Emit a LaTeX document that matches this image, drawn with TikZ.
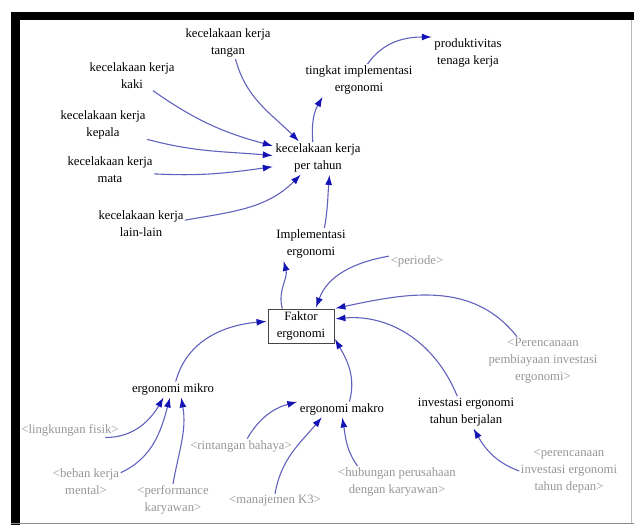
\documentclass[tikz,border=0pt]{standalone}
\usepackage{fontspec}
\setmainfont{Liberation Serif}
\usetikzlibrary{arrows.meta}
\definecolor{linkblue}{RGB}{98,98,190}
\definecolor{headblue}{RGB}{20,20,180}
\definecolor{shadowgray}{RGB}{150,150,150}
\definecolor{boxgray}{RGB}{70,70,70}
\definecolor{edgegray}{RGB}{140,140,140}

\begin{document}
\begin{tikzpicture}[x=1bp,y=1bp,
  var/.style={align=center, inner sep=1.5bp, font=\fontsize{12.7bp}{17bp}\selectfont, text=black},
  shadowvar/.style={var, text=shadowgray},
  level/.style={var, draw=boxgray, line width=0.9bp, minimum width=66bp, minimum height=34bp},
  link/.style={draw=linkblue, line width=1.1bp, -{Latex[length=10bp,width=7bp,color=headblue]}, shorten >=1bp}
]
\useasboundingbox (0,0) rectangle (634,-525);

% frame
\fill[black] (11,-12) rectangle (634,-20);
\fill[black] (11,-12) rectangle (20,-525);
\draw[edgegray, line width=0.8bp] (11,-523) -- (634,-523);
\draw[edgegray!60, line width=0.8bp] (631,-20) -- (631,-523);

% accident variables
\node[var] (tangan) at (228,-43) {kecelakaan kerja\\tangan};
\node[var] (kaki) at (132,-76) {kecelakaan kerja\\kaki};
\node[var] (kepala) at (103,-125) {kecelakaan kerja\\kepala};
\node[var] (mata) at (110,-170) {kecelakaan kerja\\mata};
\node[var] (lain) at (141,-224) {kecelakaan kerja\\lain-lain};
\node[var] (pertahun) at (318,-158) {kecelakaan kerja\\per tahun};
\node[var] (tingkat) at (359,-80) {tingkat implementasi\\ergonomi};
\node[var] (produktif) at (468,-53) {produktivitas\\tenaga kerja};
\node[var] (impl) at (311,-244) {Implementasi\\ergonomi};
\node[shadowvar] (periode) at (417,-261) {<periode>};

% ergonomic factor
\node[level] (faktor) at (301,-326) {Faktor\\ergonomi};
\node[shadowvar] (perencanaan) at (543,-361) {<Perencanaan\\pembiayaan investasi\\ergonomi>};
\node[var] (mikro) at (173,-389) {ergonomi mikro};
\node[var] (makro) at (342,-409) {ergonomi makro};
\node[var] (investasi) at (466,-412) {investasi ergonomi\\tahun berjalan};
\node[shadowvar] (lingkungan) at (70,-430) {<lingkungan fisik>};
\node[shadowvar] (rintangan) at (241,-446) {<rintangan bahaya>};
\node[shadowvar] (hubungan) at (397,-482) {<hubungan perusahaan\\dengan karyawan>};
\node[shadowvar] (depan) at (569,-471) {<perencanaan\\investasi ergonomi\\tahun depan>};
\node[shadowvar] (beban) at (86,-482) {<beban kerja\\mental>};
\node[shadowvar] (performance) at (173,-500) {<performance\\karyawan>};
\node[shadowvar] (manajemen) at (275,-501) {<manajemen K3>};

% links into accidents per year
\draw[link] (tangan.-65) to[out=-75,in=135] (pertahun.139);
\draw[link] (kaki.-35) to[out=-35,in=165] (pertahun.165);
\draw[link] (kepala.-18) to[out=-15,in=175] (pertahun.177);
\draw[link] (mata.-5) to[out=-3,in=188] (pertahun.191);
\draw[link] (lain.5) to[out=10,in=225] (pertahun.224);
\draw[link] (pertahun.108) to[out=95,in=-120] (tingkat.204);
\draw[link] (tingkat.62) to[out=55,in=180] (produktif.north west);
\draw[link] (impl.50) to[out=80,in=-95] (pertahun.-54);

% links around the ergonomic factor
\draw[link] (faktor.137) to[out=105,in=-75] (impl.210);
\draw[link] (periode.170) to[out=190,in=70] (faktor.50);
\draw[link] (perencanaan.137) to[out=128,in=12] (faktor.north east);
\draw[link] (investasi.119) to[out=112,in=5] (faktor.12);
\draw[link] (makro.45) to[out=75,in=-60] (faktor.-20);
\draw[link] (mikro.70) to[out=75,in=185] (faktor.172);

% micro and macro inputs
\draw[link] (lingkungan.-12) to[out=0,in=-120] (mikro.220);
\draw[link] (beban.15) to[out=25,in=-105] (mikro.250);
\draw[link] (performance.north) to[out=80,in=-80] (mikro.-43);
\draw[link] (rintangan.50) to[out=60,in=195] (makro.north west);
\draw[link] (manajemen.north) to[out=80,in=-130] (makro.201);
\draw[link] (hubungan.158) to[out=125,in=-80] (makro.-90);
\draw[link] (depan.west) to[out=160,in=-60] (investasi.-66);
\end{tikzpicture}
\end{document}
